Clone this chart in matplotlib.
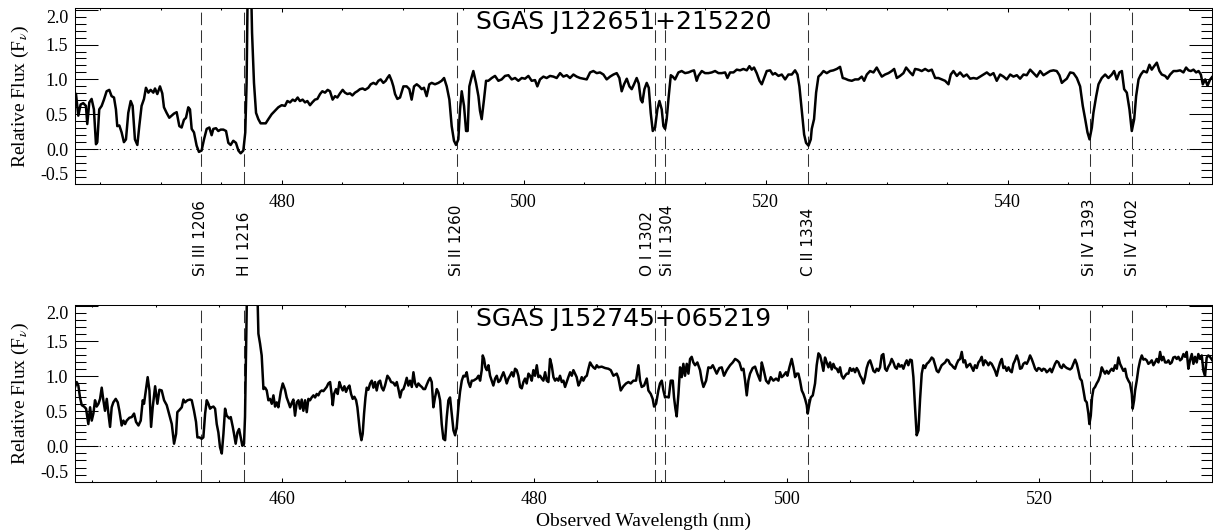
import matplotlib
matplotlib.use("Agg")
import matplotlib.pyplot as plt
import matplotlib.transforms as mtransforms
from matplotlib.ticker import MultipleLocator, FormatStrFormatter

plt.rcParams['font.family'] = ['Liberation Serif', 'DejaVu Serif']
plt.rcParams['mathtext.fontset'] = 'stix'

# redshifts of the two arcs, rest-frame window shown in both panels (Angstrom)
z_top = 2.923
z_bot = 2.7595
rest_range = (1180.0, 1419.56)

line_names = ["Si III 1206", "H I 1216", "Si II 1260", "O I 1302",
              "Si II 1304", "C II 1334", "Si IV 1393", "Si IV 1402"]
line_rest = [1206.50, 1215.67, 1260.42, 1302.17, 1304.37, 1334.53, 1393.76, 1402.77]
# small sideways nudges (pixels) so the close pair of labels does not collide
label_shift = [0, 0, 0, -7, 2, 0, 0, 0]

top_name = "SGAS J122651+215220"
bot_name = "SGAS J152745+065219"

# --- top spectrum (observed nm, relative flux)
top_wave = [
    463.00, 463.19, 463.38, 463.60, 463.82, 463.93, 464.10, 464.29, 464.48, 464.65,
    464.76, 464.92, 465.12, 465.31, 465.53, 465.75, 465.94, 466.14, 466.30, 466.41,
    466.58, 466.77, 466.96, 467.13, 467.32, 467.52, 467.68, 467.87, 468.07, 468.23,
    468.42, 468.62, 468.78, 468.98, 469.17, 469.39, 469.53, 469.72, 469.94, 470.13,
    470.27, 470.49, 470.71, 470.90, 471.10, 471.32, 471.54, 471.73, 471.92, 472.09,
    472.28, 472.42, 472.56, 472.75, 472.97, 473.16, 473.38, 473.58, 473.80, 474.02,
    474.21, 474.35, 474.57, 474.76, 474.96, 475.18, 475.40, 475.59, 475.78, 476.00,
    476.22, 476.42, 476.61, 476.83, 476.99, 477.10, 477.21, 477.44, 477.55, 477.71,
    477.88, 478.07, 478.26, 478.48, 478.68, 478.90, 479.17, 479.45, 479.72, 480.00,
    480.27, 480.47, 480.69, 480.91, 481.10, 481.32, 481.51, 481.73, 481.93, 482.12,
    482.34, 482.53, 482.75, 482.95, 483.17, 483.36, 483.58, 483.80, 483.99, 484.21,
    484.41, 484.60, 484.82, 485.04, 485.23, 485.43, 485.65, 485.84, 486.06, 486.25,
    486.47, 486.69, 486.89, 487.16, 487.36, 487.58, 487.80, 487.99, 488.18, 488.40,
    488.60, 488.73, 488.90, 489.09, 489.23, 489.37, 489.56, 489.78, 490.06, 490.33,
    490.55, 490.74, 490.94, 491.16, 491.38, 491.57, 491.76, 491.98, 492.20, 492.40,
    492.67, 492.95, 493.22, 493.42, 493.64, 493.86, 494.05, 494.24, 494.41, 494.60,
    494.74, 494.88, 495.07, 495.24, 495.37, 495.51, 495.68, 495.84, 496.06, 496.26,
    496.39, 496.53, 496.72, 496.89, 497.08, 497.36, 497.63, 497.91, 498.18, 498.46,
    498.74, 499.01, 499.29, 499.56, 499.84, 500.11, 500.39, 500.66, 500.94, 501.13,
    501.35, 501.63, 501.90, 502.18, 502.46, 502.73, 503.01, 503.28, 503.56, 503.83,
    504.11, 504.38, 504.66, 504.94, 505.21, 505.49, 505.76, 506.04, 506.31, 506.59,
    506.86, 507.14, 507.42, 507.69, 507.91, 508.10, 508.30, 508.52, 508.74, 508.93,
    509.12, 509.34, 509.51, 509.68, 509.81, 509.98, 510.17, 510.34, 510.50, 510.67,
    510.86, 511.05, 511.22, 511.41, 511.55, 511.69, 511.82, 511.99, 512.16, 512.32,
    512.51, 512.79, 513.06, 513.34, 513.62, 513.89, 514.08, 514.30, 514.44, 514.72,
    514.99, 515.27, 515.54, 515.82, 516.10, 516.37, 516.65, 516.84, 517.06, 517.34,
    517.61, 517.89, 518.16, 518.44, 518.66, 518.85, 519.04, 519.26, 519.49, 519.68,
    519.87, 520.09, 520.37, 520.59, 520.78, 521.06, 521.33, 521.61, 521.88, 522.16,
    522.43, 522.63, 522.79, 522.98, 523.18, 523.34, 523.54, 523.73, 523.81, 524.00,
    524.17, 524.36, 524.55, 524.78, 525.05, 525.33, 525.60, 525.88, 526.15, 526.37,
    526.57, 526.84, 527.12, 527.39, 527.67, 527.94, 528.14, 528.36, 528.63, 528.91,
    529.18, 529.40, 529.60, 529.87, 530.15, 530.42, 530.62, 530.84, 531.11, 531.39,
    531.61, 531.80, 531.94, 532.16, 532.35, 532.63, 532.90, 533.18, 533.46, 533.73,
    534.01, 534.28, 534.56, 534.83, 535.11, 535.30, 535.52, 535.80, 536.07, 536.35,
    536.62, 536.90, 537.18, 537.45, 537.73, 538.00, 538.28, 538.55, 538.83, 539.10,
    539.38, 539.66, 539.93, 540.21, 540.48, 540.76, 541.03, 541.31, 541.58, 541.86,
    542.14, 542.41, 542.69, 542.96, 543.24, 543.51, 543.79, 544.06, 544.28, 544.48,
    544.67, 544.89, 545.17, 545.44, 545.72, 545.99, 546.21, 546.41, 546.60, 546.77,
    546.96, 547.09, 547.32, 547.51, 547.78, 548.06, 548.33, 548.61, 548.80, 549.02,
    549.24, 549.44, 549.63, 549.85, 550.07, 550.26, 550.46, 550.62, 550.82, 551.01,
    551.23, 551.50, 551.72, 551.91, 552.11, 552.33, 552.55, 552.74, 553.02, 553.21,
    553.43, 553.71, 553.98, 554.26, 554.53, 554.75, 554.95, 555.14, 555.36, 555.58,
    555.78, 555.97, 556.13, 556.33, 556.52, 556.74, 556.93]
top_flux = [
    0.79, 0.48, 0.64, 0.66, 0.62, 0.36, 0.67, 0.72, 0.57, 0.07,
    0.10, 0.57, 0.62, 0.71, 0.83, 0.85, 0.76, 0.74, 0.57, 0.33,
    0.34, 0.24, 0.10, 0.14, 0.52, 0.69, 0.62, 0.14, 0.06, 0.33,
    0.62, 0.72, 0.88, 0.81, 0.85, 0.81, 0.87, 0.79, 0.90, 0.80,
    0.60, 0.52, 0.45, 0.48, 0.51, 0.53, 0.33, 0.31, 0.42, 0.45,
    0.60, 0.57, 0.29, 0.24, 0.05, -0.04, -0.02, 0.14, 0.29, 0.31,
    0.20, 0.29, 0.30, 0.26, 0.28, 0.28, 0.26, 0.09, 0.06, 0.12,
    0.09, -0.02, -0.06, -0.02, 0.24, 0.95, 2.60, 2.60, 1.67, 0.95,
    0.52, 0.43, 0.37, 0.37, 0.37, 0.43, 0.50, 0.55, 0.60, 0.63,
    0.62, 0.69, 0.67, 0.71, 0.69, 0.74, 0.69, 0.71, 0.67, 0.69,
    0.63, 0.67, 0.71, 0.72, 0.79, 0.83, 0.81, 0.85, 0.83, 0.71,
    0.76, 0.74, 0.80, 0.85, 0.81, 0.79, 0.80, 0.77, 0.81, 0.83,
    0.86, 0.87, 0.85, 0.88, 0.93, 0.95, 0.93, 0.98, 1.00, 0.95,
    0.98, 1.02, 1.06, 0.98, 0.90, 0.79, 0.72, 0.74, 0.90, 0.90,
    0.86, 0.71, 0.90, 0.93, 0.90, 0.86, 0.88, 0.76, 0.93, 0.95,
    0.93, 0.95, 0.98, 1.02, 0.90, 0.71, 0.33, 0.12, 0.06, 0.14,
    0.57, 0.83, 0.62, 0.26, 0.26, 0.90, 1.02, 1.12, 0.95, 0.76,
    0.55, 0.43, 0.71, 0.98, 0.98, 1.02, 1.05, 0.98, 1.00, 1.05,
    1.06, 1.00, 1.02, 0.98, 1.02, 1.01, 1.05, 0.98, 0.99, 0.90,
    1.00, 1.04, 1.02, 1.05, 1.04, 1.02, 1.09, 1.04, 1.06, 1.02,
    1.07, 1.04, 1.02, 1.01, 1.00, 1.10, 1.12, 1.09, 1.10, 1.07,
    1.00, 1.04, 1.07, 1.09, 1.02, 0.83, 0.93, 1.01, 0.90, 0.86,
    0.93, 1.02, 0.94, 0.71, 0.67, 0.86, 0.95, 0.88, 0.52, 0.26,
    0.31, 0.57, 0.69, 0.57, 0.33, 0.29, 0.43, 0.76, 1.06, 1.04,
    1.00, 1.10, 1.12, 1.09, 1.10, 1.12, 1.13, 0.98, 1.05, 1.12,
    1.09, 1.09, 1.10, 1.12, 1.09, 1.09, 1.10, 1.02, 1.10, 1.10,
    1.14, 1.13, 1.15, 1.13, 1.19, 1.14, 1.17, 1.09, 0.98, 0.93,
    1.02, 1.12, 1.13, 1.07, 1.09, 1.05, 1.07, 1.00, 1.07, 1.07,
    1.13, 1.07, 0.90, 0.57, 0.21, 0.09, 0.05, 0.14, 0.29, 0.43,
    0.81, 1.04, 1.07, 1.12, 1.09, 1.12, 1.13, 1.15, 1.18, 1.02,
    1.01, 0.99, 0.98, 1.00, 1.00, 1.04, 0.98, 1.07, 1.12, 1.10,
    1.17, 1.10, 1.04, 1.07, 1.09, 1.12, 1.15, 1.02, 1.05, 1.09,
    1.17, 1.13, 1.10, 1.06, 1.15, 1.14, 1.12, 1.15, 1.12, 1.14,
    1.02, 1.02, 1.00, 0.98, 0.93, 1.07, 1.12, 1.05, 1.10, 1.04,
    1.07, 1.01, 1.02, 1.01, 1.04, 1.07, 1.10, 1.06, 1.09, 0.98,
    1.07, 1.04, 1.00, 1.07, 1.04, 1.06, 1.01, 1.07, 1.06, 1.14,
    1.09, 1.04, 1.12, 1.06, 1.09, 1.12, 1.13, 1.12, 1.06, 0.95,
    0.98, 1.01, 1.10, 1.09, 1.02, 0.90, 0.62, 0.43, 0.24, 0.14,
    0.31, 0.52, 0.76, 0.93, 1.02, 1.07, 1.02, 1.07, 1.12, 1.00,
    1.10, 1.12, 0.86, 0.81, 0.57, 0.26, 0.43, 0.76, 1.00, 1.07,
    1.12, 1.10, 1.21, 1.14, 1.19, 1.24, 1.12, 1.07, 1.05, 1.01,
    1.07, 1.12, 1.12, 1.13, 1.10, 1.17, 1.13, 1.12, 1.14, 1.10,
    1.12, 1.07, 0.93, 1.00, 0.91, 1.00, 1.04]

# --- bottom spectrum (observed nm, relative flux)
bot_wave = [
    443.63, 443.76, 443.89, 444.02, 444.16, 444.34, 444.50, 444.68, 444.82, 444.95,
    445.08, 445.21, 445.34, 445.48, 445.61, 445.74, 445.87, 446.00, 446.14, 446.27,
    446.40, 446.53, 446.66, 446.85, 447.01, 447.14, 447.32, 447.46, 447.59, 447.72,
    447.93, 448.12, 448.30, 448.46, 448.65, 448.83, 448.99, 449.09, 449.25, 449.38,
    449.52, 449.65, 449.78, 449.97, 450.15, 450.31, 450.49, 450.68, 450.89, 451.07,
    451.29, 451.47, 451.63, 451.73, 451.89, 452.08, 452.21, 452.34, 452.53, 452.74,
    452.87, 453.05, 453.21, 453.32, 453.48, 453.66, 453.79, 453.93, 454.06, 454.19,
    454.32, 454.45, 454.59, 454.72, 454.85, 454.98, 455.11, 455.25, 455.38, 455.51,
    455.64, 455.85, 455.96, 456.12, 456.22, 456.35, 456.49, 456.62, 456.75, 456.88,
    457.01, 457.09, 457.17, 457.28, 458.02, 458.15, 458.28, 458.41, 458.55, 458.68,
    458.81, 458.94, 459.07, 459.21, 459.34, 459.47, 459.60, 459.73, 459.92, 460.08,
    460.26, 460.39, 460.53, 460.66, 460.79, 460.92, 461.05, 461.19, 461.32, 461.45,
    461.58, 461.71, 461.85, 461.98, 462.11, 462.24, 462.37, 462.51, 462.64, 462.77,
    462.90, 463.03, 463.17, 463.30, 463.43, 463.56, 463.69, 463.83, 463.96, 464.04,
    464.14, 464.30, 464.43, 464.57, 464.70, 464.83, 464.96, 465.09, 465.23, 465.36,
    465.49, 465.62, 465.75, 465.89, 465.99, 466.10, 466.20, 466.31, 466.41, 466.52,
    466.63, 466.73, 466.86, 467.00, 467.13, 467.26, 467.39, 467.52, 467.66, 467.79,
    467.92, 468.05, 468.18, 468.37, 468.53, 468.66, 468.84, 468.98, 469.11, 469.24,
    469.37, 469.50, 469.64, 469.77, 469.90, 470.03, 470.16, 470.30, 470.43, 470.56,
    470.69, 470.82, 470.96, 471.09, 471.22, 471.35, 471.48, 471.62, 471.75, 471.88,
    472.01, 472.14, 472.28, 472.41, 472.54, 472.67, 472.80, 472.94, 473.07, 473.20,
    473.33, 473.46, 473.60, 473.73, 473.86, 473.99, 474.12, 474.26, 474.39, 474.52,
    474.65, 474.78, 474.92, 475.05, 475.18, 475.44, 475.58, 475.71, 475.84, 475.92,
    476.02, 476.13, 476.24, 476.37, 476.50, 476.63, 476.76, 476.90, 477.03, 477.16,
    477.29, 477.42, 477.56, 477.69, 477.82, 477.95, 478.08, 478.22, 478.35, 478.48,
    478.61, 478.74, 478.88, 479.01, 479.14, 479.27, 479.40, 479.54, 479.67, 479.80,
    479.93, 480.06, 480.20, 480.33, 480.46, 480.59, 480.72, 480.86, 480.99, 481.12,
    481.25, 481.38, 481.52, 481.65, 481.78, 481.91, 482.04, 482.18, 482.31, 482.44,
    482.57, 482.70, 482.84, 482.97, 483.10, 483.23, 483.36, 483.50, 483.63, 483.76,
    483.89, 484.02, 484.16, 484.29, 484.42, 484.55, 484.68, 484.82, 484.95, 485.08,
    485.34, 485.61, 485.87, 486.06, 486.27, 486.53, 486.66, 486.85, 487.06, 487.27,
    487.46, 487.64, 487.85, 488.06, 488.25, 488.38, 488.51, 488.70, 488.91, 489.04,
    489.23, 489.38, 489.49, 489.65, 489.83, 489.96, 490.10, 490.23, 490.36, 490.49,
    490.65, 490.81, 490.97, 491.07, 491.18, 491.28, 491.42, 491.55, 491.68, 491.81,
    491.94, 492.08, 492.21, 492.34, 492.47, 492.60, 492.74, 492.92, 493.13, 493.26,
    493.40, 493.61, 493.79, 493.98, 494.14, 494.32, 494.45, 494.66, 494.85, 495.03,
    495.25, 495.51, 495.72, 495.91, 496.09, 496.25, 496.43, 496.57, 496.70, 496.83,
    496.96, 497.09, 497.30, 497.49, 497.67, 497.89, 498.02, 498.15, 498.36, 498.55,
    498.73, 498.94, 499.15, 499.34, 499.47, 499.60, 499.73, 499.94, 500.05, 500.21,
    500.39, 500.53, 500.66, 500.79, 500.92, 501.05, 501.19, 501.32, 501.45, 501.58,
    501.66, 501.79, 501.90, 502.06, 502.24, 502.37, 502.51, 502.64, 502.77, 502.90,
    503.03, 503.16, 503.30, 503.43, 503.56, 503.69, 503.83, 503.96, 504.09, 504.22,
    504.35, 504.49, 504.62, 504.75, 504.88, 505.01, 505.15, 505.28, 505.41, 505.54,
    505.67, 505.81, 505.94, 506.07, 506.20, 506.33, 506.47, 506.60, 506.73, 506.86,
    506.99, 507.13, 507.26, 507.39, 507.52, 507.65, 507.79, 507.92, 508.05, 508.18,
    508.31, 508.45, 508.58, 508.71, 508.84, 508.97, 509.11, 509.24, 509.37, 509.50,
    509.63, 509.77, 509.90, 510.03, 510.16, 510.29, 510.43, 510.56, 510.69, 510.82,
    510.95, 511.09, 511.22, 511.35, 511.48, 511.61, 511.75, 511.88, 512.01, 512.14,
    512.27, 512.41, 512.54, 512.67, 512.80, 512.93, 513.07, 513.20, 513.33, 513.46,
    513.59, 513.73, 513.86, 513.99, 514.12, 514.25, 514.39, 514.52, 514.65, 514.78,
    514.91, 515.05, 515.18, 515.31, 515.44, 515.57, 515.71, 515.84, 515.97, 516.10,
    516.23, 516.37, 516.50, 516.63, 516.76, 516.90, 517.03, 517.16, 517.29, 517.42,
    517.56, 517.69, 517.82, 517.95, 518.08, 518.22, 518.35, 518.48, 518.61, 518.74,
    518.88, 519.01, 519.14, 519.27, 519.40, 519.54, 519.67, 519.80, 519.93, 520.06,
    520.20, 520.33, 520.46, 520.59, 520.72, 520.86, 520.99, 521.12, 521.25, 521.38,
    521.52, 521.65, 521.78, 521.91, 522.04, 522.18, 522.31, 522.44, 522.57, 522.70,
    522.84, 522.97, 523.10, 523.23, 523.36, 523.50, 523.63, 523.76, 523.89, 523.97,
    524.08, 524.18, 524.29, 524.42, 524.55, 524.68, 524.82, 524.95, 525.08, 525.21,
    525.34, 525.48, 525.61, 525.74, 525.87, 526.00, 526.14, 526.27, 526.40, 526.53,
    526.66, 526.80, 526.93, 527.06, 527.19, 527.33, 527.40, 527.51, 527.59, 527.72,
    527.85, 527.99, 528.12, 528.25, 528.38, 528.51, 528.64, 528.78, 528.91, 529.04,
    529.17, 529.30, 529.44, 529.57, 529.70, 529.83, 529.97, 530.10, 530.23, 530.36,
    530.49, 530.62, 530.76, 530.89, 531.02, 531.15, 531.28, 531.42, 531.55, 531.68,
    531.81, 531.94, 532.08, 532.21, 532.34, 532.47, 532.60, 532.74, 532.87, 533.00,
    533.13, 533.26, 533.39, 533.52, 533.71]
bot_flux = [
    0.85, 0.92, 0.87, 0.70, 0.59, 0.57, 0.54, 0.32, 0.56, 0.37,
    0.47, 0.66, 0.57, 0.61, 0.68, 0.84, 0.66, 0.51, 0.68, 0.47,
    0.28, 0.56, 0.63, 0.68, 0.63, 0.51, 0.30, 0.37, 0.32, 0.37,
    0.41, 0.42, 0.47, 0.35, 0.30, 0.37, 0.66, 0.61, 0.82, 0.99,
    0.80, 0.28, 0.56, 0.86, 0.61, 0.81, 0.80, 0.66, 0.59, 0.47,
    0.32, 0.04, 0.18, 0.49, 0.52, 0.56, 0.67, 0.63, 0.66, 0.67,
    0.66, 0.51, 0.35, 0.13, 0.13, 0.11, 0.13, 0.47, 0.66, 0.61,
    0.54, 0.56, 0.57, 0.54, 0.32, 0.20, -0.01, -0.10, 0.18, 0.54,
    0.44, 0.40, 0.42, 0.28, 0.18, 0.04, 0.20, 0.25, 0.13, 0.01,
    0.04, 0.42, 1.37, 2.60, 2.60, 1.61, 1.47, 1.30, 0.82, 0.84,
    0.80, 0.66, 0.68, 0.61, 0.73, 0.57, 0.63, 0.56, 0.78, 0.90,
    0.81, 0.70, 0.63, 0.56, 0.62, 0.67, 0.44, 0.63, 0.66, 0.54,
    0.67, 0.51, 0.66, 0.49, 0.68, 0.66, 0.70, 0.73, 0.70, 0.75,
    0.73, 0.78, 0.80, 0.79, 0.82, 0.85, 0.90, 0.92, 0.73, 0.59,
    0.75, 0.82, 0.75, 0.92, 0.85, 0.80, 0.86, 0.78, 0.84, 0.87,
    0.75, 0.68, 0.71, 0.66, 0.56, 0.37, 0.20, 0.09, 0.18, 0.47,
    0.70, 0.84, 0.81, 0.90, 0.94, 0.84, 0.92, 0.80, 0.92, 0.94,
    0.84, 0.80, 0.87, 1.01, 0.97, 0.92, 0.91, 0.87, 0.92, 0.82,
    0.70, 0.80, 0.82, 0.89, 0.98, 0.87, 0.94, 0.85, 1.06, 0.90,
    0.85, 0.90, 0.87, 0.85, 0.82, 0.82, 0.88, 0.94, 0.98, 0.92,
    0.56, 0.70, 0.82, 0.77, 0.66, 0.32, 0.11, 0.09, 0.42, 0.66,
    0.70, 0.47, 0.23, 0.16, 0.28, 0.56, 0.78, 0.94, 1.01, 1.00,
    1.06, 0.92, 0.85, 0.94, 0.94, 0.97, 1.01, 0.94, 1.09, 1.30,
    1.25, 1.13, 1.09, 1.16, 1.01, 0.94, 0.87, 0.97, 1.01, 0.92,
    0.94, 1.00, 1.06, 0.99, 0.90, 0.97, 1.01, 1.06, 1.00, 1.11,
    1.09, 1.01, 0.85, 0.83, 0.92, 0.97, 0.90, 1.04, 1.01, 0.94,
    1.09, 1.01, 1.16, 0.99, 1.01, 0.97, 0.94, 1.06, 0.94, 0.92,
    1.25, 1.16, 0.99, 0.94, 0.97, 0.94, 1.01, 0.92, 0.94, 0.85,
    0.92, 0.99, 1.06, 1.01, 1.09, 1.04, 0.99, 0.87, 0.92, 0.99,
    0.94, 0.99, 1.01, 1.11, 1.20, 1.16, 1.13, 1.11, 1.16, 1.13,
    1.14, 1.12, 1.11, 1.09, 1.01, 1.04, 0.98, 0.80, 0.86, 0.90,
    0.92, 0.90, 0.94, 0.94, 1.16, 0.94, 0.85, 0.87, 0.97, 0.80,
    0.75, 0.68, 0.57, 0.61, 0.80, 0.90, 0.94, 0.80, 0.70, 0.71,
    0.70, 0.94, 0.94, 0.70, 0.54, 0.43, 0.75, 1.13, 0.99, 1.18,
    1.01, 1.18, 1.04, 1.25, 1.28, 1.20, 1.16, 1.20, 1.09, 0.95,
    0.85, 0.94, 1.13, 1.12, 1.16, 1.09, 1.04, 1.12, 1.13, 1.01,
    1.09, 1.16, 1.20, 1.25, 1.23, 1.20, 1.09, 1.11, 0.94, 0.73,
    0.94, 1.04, 1.12, 1.14, 1.04, 0.94, 1.20, 1.11, 0.94, 0.90,
    0.99, 0.94, 0.97, 0.94, 1.06, 0.99, 1.01, 1.06, 1.01, 1.13,
    1.25, 1.13, 0.99, 1.04, 1.04, 0.94, 0.80, 0.75, 0.68, 0.59,
    0.47, 0.61, 0.70, 0.73, 0.90, 1.16, 1.33, 1.30, 1.20, 1.08,
    1.27, 1.20, 1.13, 1.20, 1.10, 1.18, 1.12, 1.11, 1.06, 1.13,
    1.01, 0.97, 1.01, 1.04, 1.04, 1.12, 1.08, 1.11, 1.06, 1.12,
    1.08, 1.01, 0.97, 0.90, 0.99, 1.12, 1.20, 1.23, 1.16, 1.08,
    1.06, 1.11, 1.08, 1.13, 1.30, 1.32, 1.11, 1.08, 1.14, 1.18,
    1.25, 1.20, 1.13, 1.11, 1.18, 1.14, 1.16, 1.11, 1.18, 1.23,
    1.16, 1.24, 1.23, 0.99, 0.56, 0.16, 0.23, 0.68, 1.04, 1.16,
    1.12, 1.18, 1.20, 1.23, 1.27, 1.25, 1.16, 1.08, 1.06, 1.11,
    1.16, 1.18, 1.20, 1.24, 1.23, 1.18, 1.16, 1.13, 1.11, 1.18,
    1.23, 1.25, 1.35, 1.20, 1.23, 1.13, 1.16, 1.18, 1.13, 1.08,
    1.16, 1.12, 1.20, 1.23, 1.28, 1.16, 1.23, 1.20, 1.16, 1.20,
    1.18, 1.13, 1.08, 1.01, 1.11, 1.20, 1.25, 1.12, 1.14, 1.08,
    1.13, 1.08, 1.06, 1.18, 1.23, 1.30, 1.23, 1.11, 1.12, 1.18,
    1.20, 1.18, 1.23, 1.30, 1.25, 1.18, 1.11, 1.08, 1.12, 1.11,
    1.08, 1.11, 1.10, 1.06, 1.08, 1.11, 1.06, 1.12, 1.18, 1.22,
    1.20, 1.14, 1.12, 1.17, 1.14, 1.12, 1.11, 1.10, 1.12, 1.18,
    1.24, 1.18, 1.08, 0.97, 0.94, 0.80, 0.66, 0.63, 0.47, 0.32,
    0.44, 0.70, 0.82, 0.85, 0.90, 0.94, 1.01, 1.13, 1.08, 1.04,
    1.08, 1.04, 1.08, 1.11, 1.08, 1.16, 1.11, 1.27, 1.18, 1.13,
    1.08, 1.11, 0.99, 0.94, 0.90, 0.75, 0.54, 0.66, 0.80, 0.94,
    1.11, 1.23, 1.30, 1.24, 1.25, 1.23, 1.18, 1.20, 1.23, 1.16,
    1.20, 1.25, 1.20, 1.35, 1.23, 1.28, 1.20, 1.20, 1.23, 1.18,
    1.20, 1.27, 1.28, 1.25, 1.28, 1.23, 1.25, 1.32, 1.28, 1.35,
    1.11, 1.23, 1.32, 1.18, 1.28, 1.20, 1.32, 1.25, 1.30, 1.08,
    1.01, 1.27, 1.30, 1.28, 1.23]

fig = plt.figure(figsize=(12.13, 5.31), dpi=100)
ax_top = fig.add_axes([0.0618, 0.6535, 0.9374, 0.3309])
ax_bot = fig.add_axes([0.0618, 0.0932, 0.9374, 0.3324])


def draw_panel(ax, z, wave, flux, name):
    obs = [w * (1 + z) / 10.0 for w in line_rest]
    for w in obs:
        ax.axvline(w, color='0.2', lw=0.75, linestyle=(0, (12, 5)), zorder=1)
    ax.axhline(0.0, color='black', lw=0.75, linestyle=(0, (1.2, 4.6)), zorder=1)
    ax.plot(wave, flux, color='black', lw=1.8, solid_joinstyle='round', zorder=3)

    ax.set_xlim(rest_range[0] * (1 + z) / 10.0, rest_range[1] * (1 + z) / 10.0)
    ax.set_ylim(-0.5, 2.02)
    ax.xaxis.set_major_locator(MultipleLocator(20))
    ax.xaxis.set_minor_locator(MultipleLocator(5))
    ax.set_yticks([-0.5, 0.0, 0.5, 1.0, 1.5, 2.0])
    ax.yaxis.set_minor_locator(MultipleLocator(0.1))
    ax.yaxis.set_major_formatter(FormatStrFormatter('%.1f'))

    ax.tick_params(which='both', direction='in', top=True, right=True,
                   labelsize=13, width=0.75, color='black')
    ax.tick_params(axis='x', which='major', length=3.0, pad=7)
    ax.tick_params(axis='x', which='minor', length=1.5)
    ax.tick_params(axis='y', which='major', length=16.3, pad=5)
    ax.tick_params(axis='y', which='minor', length=8.0)
    for s in ax.spines.values():
        s.set_linewidth(0.75)

    # IDL style: end labels pulled inside the frame
    ticks = ax.yaxis.get_major_ticks()
    ticks[0].label1.set_verticalalignment('bottom')
    ticks[-1].label1.set_verticalalignment('top')

    ax.text(0.4825, 0.92, name, transform=ax.transAxes, ha='center', va='center',
            fontsize=18, family='DejaVu Sans')
    return obs


obs_top = draw_panel(ax_top, z_top, top_wave, top_flux, top_name)
draw_panel(ax_bot, z_bot, bot_wave, bot_flux, bot_name)

# line identifications under the upper panel
base = mtransforms.blended_transform_factory(ax_top.transData, fig.transFigure)
for name, w, dx in zip(line_names, obs_top, label_shift):
    trans = base + mtransforms.ScaledTranslation(dx / 100.0, 0, fig.dpi_scale_trans)
    ax_top.text(w, 1 - 276 / 531, name, transform=trans, rotation=90,
                rotation_mode='anchor', ha='left', va='center',
                fontsize=11, family='DejaVu Sans', clip_on=False)

ylab = r'Relative Flux (F$_{\nu}$)'
fig.text(0.0165, 0.8188, ylab, rotation=90, ha='center', va='center', fontsize=14)
fig.text(0.0165, 0.2594, ylab, rotation=90, ha='center', va='center', fontsize=14)
fig.text(0.5305, 0.019, 'Observed Wavelength (nm)', ha='center', va='center', fontsize=14)

fig.savefig('out.png', dpi=100)
